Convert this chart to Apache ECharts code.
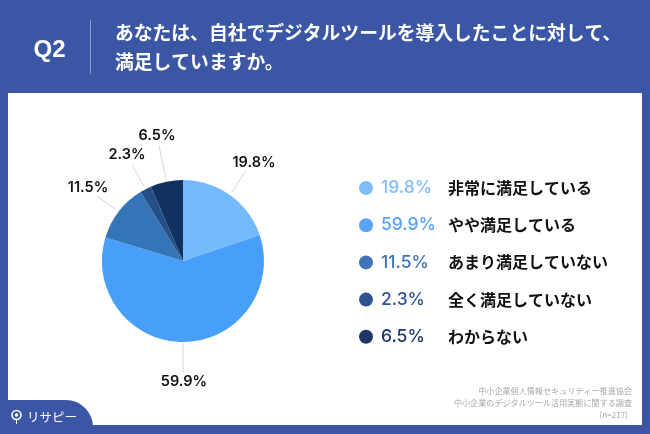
<!DOCTYPE html>
<html><head><meta charset="utf-8">
<style>html,body{margin:0;padding:0;background:#3b56a4}#c{width:650px;height:434px}</style>
<script src="https://cdn.jsdelivr.net/npm/echarts@6/dist/echarts.min.js"></script>
</head><body><div id="c"></div>
<script>
const categories = ['非常に満足している','やや満足している','あまり満足していない','全く満足していない','わからない'];
const values = [19.8,59.9,11.5,2.3,6.5];
const pieColors = ['#74bafb','#479ffa','#3674b8','#245089','#12315f'];
const legendColors = ['#7fbdfa','#5ba3f7','#4173b5','#2f5390','#1c3767'];
const titleLines = ['あなたは、自社でデジタルツールを導入したことに対して、','満足していますか。'];
const sourceLines = ['中小企業個人情報セキュリティー推進協会','中小企業のデジタルツール活用実態に関する調査','(n=217)'];
const labelSpots = [[254,163],[184,382],[88,188],[127,155],[157,136]];
const leaderLines = [[[232,192],[245,172]],[[183,343],[183,372]],[[115,209],[97,196]],[[144,186],[132,165]],[[166,179],[159,146]]];
const FONT = '"Noto Sans CJK JP","Liberation Sans",sans-serif';
const NUM = 'Inter,"Liberation Sans",sans-serif';
const fmt = v => v.toFixed(1) + '%';
const rich = {};
legendColors.forEach((c,i)=>{ rich['v'+i] = {fontFamily:NUM,fontSize:17.5,fontWeight:500,color:c,width:67,align:'left'}; });
rich.n = {fontFamily:FONT,fontSize:16,fontWeight:700,color:'#111'};

const chart = echarts.init(document.getElementById('c'),null,{renderer:'canvas'});
chart.setOption({
  animation:false,
  backgroundColor:'#3b56a4',
  color:pieColors,
  legend:{
    orient:'vertical',left:359,top:179,padding:0,itemWidth:14,itemHeight:14,itemGap:19.2,icon:'circle',
    selectedMode:false,
    data:categories.map((name,i)=>({name,itemStyle:{color:legendColors[i]}})),
    formatter:name=>{const i=categories.indexOf(name);return `{v${i}|${fmt(values[i])}}{n|${name}}`;},
    textStyle:{rich,padding:[0,0,0,3]}
  },
  series:[{
    type:'pie',center:[183,261],radius:[0,81],startAngle:90,clockwise:true,
    z:5,
    data:categories.map((name,i)=>({name,value:values[i]})),
    itemStyle:{borderWidth:0},
    label:{show:true,position:'outside',formatter:p=>fmt(p.value),fontFamily:NUM,fontSize:14.5,fontWeight:600,color:'#111'},
    labelLine:{show:true,length:15,length2:0,smooth:false,lineStyle:{color:'#d5d5d5',width:1}},
    avoidLabelOverlap:false,
    labelLayout:p=>({
      x:labelSpots[p.dataIndex][0],y:labelSpots[p.dataIndex][1],align:'center',verticalAlign:'middle',hideOverlap:false,
      labelLinePoints:[leaderLines[p.dataIndex][0],leaderLines[p.dataIndex][1],leaderLines[p.dataIndex][1]]
    })
  }],
  graphic:[
    {type:'rect',z:0,shape:{x:8,y:93,width:634,height:332},style:{fill:'#fff'}},
    {type:'rect',z:1,shape:{x:90,y:20,width:1,height:54},style:{fill:'#8d9ccb'}},
    {type:'text',z:2,x:49.5,y:50,style:{text:'Q2',fill:'#fff',font:'700 24px "Liberation Sans",sans-serif',textAlign:'center',textVerticalAlign:'middle'}},
    {type:'text',z:2,x:115,y:33,style:{text:titleLines[0],fill:'#fff',font:'700 18.8px '+FONT,textVerticalAlign:'middle'}},
    {type:'text',z:2,x:115,y:62,style:{text:titleLines[1],fill:'#fff',font:'700 18.8px '+FONT,textVerticalAlign:'middle'}},
    {type:'text',z:2,x:632,y:391,style:{text:sourceLines[0],fill:'#a8a8a8',font:'400 8.1px '+FONT,textAlign:'right',textVerticalAlign:'middle'}},
    {type:'text',z:2,x:632,y:403,style:{text:sourceLines[1],fill:'#a8a8a8',font:'400 8.1px '+FONT,textAlign:'right',textVerticalAlign:'middle'}},
    {type:'text',z:2,x:628,y:415,style:{text:sourceLines[2],fill:'#a8a8a8',font:'400 8.1px '+FONT,textAlign:'right',textVerticalAlign:'middle'}},
    {type:'rect',z:3,shape:{x:0,y:400,width:93,height:34,r:[0,27,0,0]},style:{fill:'#3b56a4'}},
    {type:'rect',z:3,shape:{x:0,y:425,width:650,height:9},style:{fill:'#3b56a4'}},
    {type:'circle',z:4,shape:{cx:16.5,cy:415,r:4.5},style:{fill:'none',stroke:'#fff',lineWidth:1.6}},
    {type:'circle',z:4,shape:{cx:16.5,cy:415,r:1.8},style:{fill:'#fff'}},
    {type:'rect',z:4,shape:{x:16,y:420,width:1,height:4},style:{fill:'#fff'}},
    {type:'text',z:4,x:27,y:417,style:{text:'リサピー',fill:'#fff',font:'400 12.5px '+FONT,textVerticalAlign:'middle'}}
  ]
});
</script></body></html>
